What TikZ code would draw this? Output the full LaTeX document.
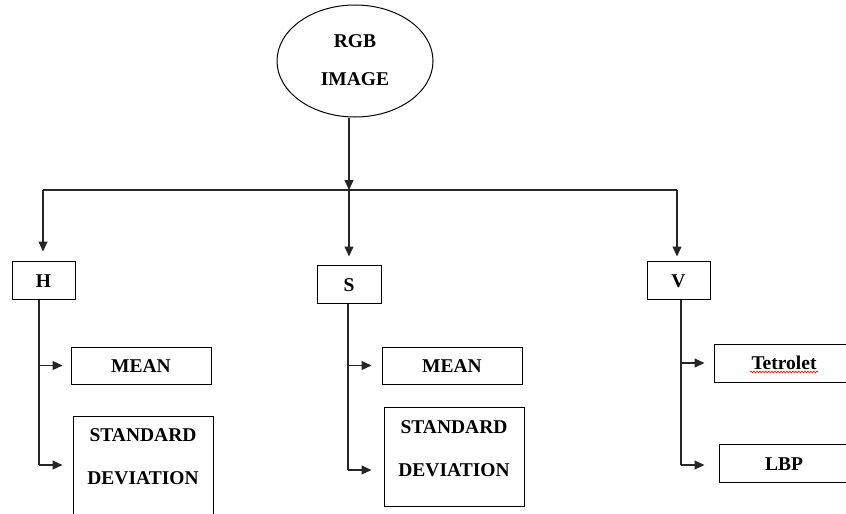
\documentclass[tikz,border=0pt]{standalone}
\usepackage{fontspec}
\setmainfont{Liberation Serif}
\usetikzlibrary{arrows.meta,shapes.geometric,decorations.pathmorphing}
\tikzset{
  box/.style={draw=black, line width=1pt, rectangle, inner sep=0pt},
  txt/.style={font=\fontsize{19.5}{43}\selectfont\bfseries, align=center, inner sep=0pt},
  arr/.style={-{Triangle[length=10pt,width=9pt]}},
  ln/.style={line width=1.1pt, draw=black!85}
}
\begin{document}
\begin{tikzpicture}[x=1pt,y=-1pt]
\useasboundingbox (0,0) rectangle (846,514);
\clip (0,0) rectangle (846,514);
% root
\node[draw=black, line width=1pt, ellipse, minimum width=156pt, minimum height=112pt, inner sep=0pt] (rgb) at (355,61) {};
\node[txt, font=\fontsize{19.5}{38.5}\selectfont\bfseries] (rgbt) at (355,60) {RGB\\IMAGE};
% junctions
\coordinate (j) at (349,190);
\coordinate (jl) at (43,190);
\coordinate (jr) at (677,190);
% level 1 boxes
\node[box, minimum width=63pt, minimum height=38pt] (H) at (43.5,280) {};
\node[txt] (Ht) at (43.5,281) {H};
\node[box, minimum width=64pt, minimum height=38pt] (S) at (349,284) {};
\node[txt] (St) at (349,285) {S};
\node[box, minimum width=63pt, minimum height=38pt] (V) at (678.5,280) {};
\node[txt] (Vt) at (678.5,281) {V};
% level 2 boxes
\node[box, minimum width=140pt, minimum height=37pt] (hm) at (141,365.5) {};
\node[txt] (hmt) at (141,366) {MEAN};
\node[box, minimum width=140pt, minimum height=124pt] (hsd) at (143,478) {};
\node[txt] (hsdt) at (143,457) {STANDARD\\DEVIATION};
\node[box, minimum width=140pt, minimum height=37pt] (sm) at (452,365.5) {};
\node[txt] (smt) at (452,366) {MEAN};
\node[box, minimum width=140pt, minimum height=99pt] (ssd) at (454,456.5) {};
\node[txt] (ssdt) at (454,448.5) {STANDARD\\DEVIATION};
\node[box, minimum width=140pt, minimum height=38pt] (vt) at (784,363) {};
\node[txt] (vtt) at (784,363) {Tetrolet};
\node[box, minimum width=130pt, minimum height=38pt] (vl) at (784,463) {};
\node[txt] (vlt) at (784,464) {LBP};
% spell-check underline
\coordinate (u1) at (750,372);
\coordinate (u2) at (818,372);
\draw[red, line width=0.6pt, decorate, decoration={snake, amplitude=0.9pt, segment length=3pt}] (u1) -- (u2);
% connectors
\draw[ln, arr] (rgb.south -| j) -- (j);
\draw[ln] (jl) -- (jr);
\draw[ln, arr, shorten >=9pt] (jl) -- (H.north -| jl);
\draw[ln, arr, shorten >=8pt] (j) -- (S.north -| j);
\draw[ln, arr, shorten >=4pt] (jr) -- (V.north -| jr);
% H branch
\coordinate (ht) at (39,465);
\draw[ln] (H.south -| ht) -- (ht);
\draw[ln, arr, shorten >=8pt] (ht |- hm.west) -- (hm.west);
\draw[ln, arr, shorten >=10pt] (ht) -- (ht -| hsd.west);
% S branch
\coordinate (st) at (348,470);
\draw[ln] (S.south -| st) -- (st);
\draw[ln, arr, shorten >=10pt] (st |- sm.west) -- (sm.west);
\draw[ln, arr, shorten >=12pt] (st) -- (st -| ssd.west);
% V branch
\coordinate (vtk) at (681,465);
\draw[ln] (V.south -| vtk) -- (vtk);
\draw[ln, arr, shorten >=9pt] (vtk |- vt.west) -- (vt.west);
\draw[ln, arr, shorten >=14pt] (vtk) -- (vtk -| vl.west);
\end{tikzpicture}
\end{document}
